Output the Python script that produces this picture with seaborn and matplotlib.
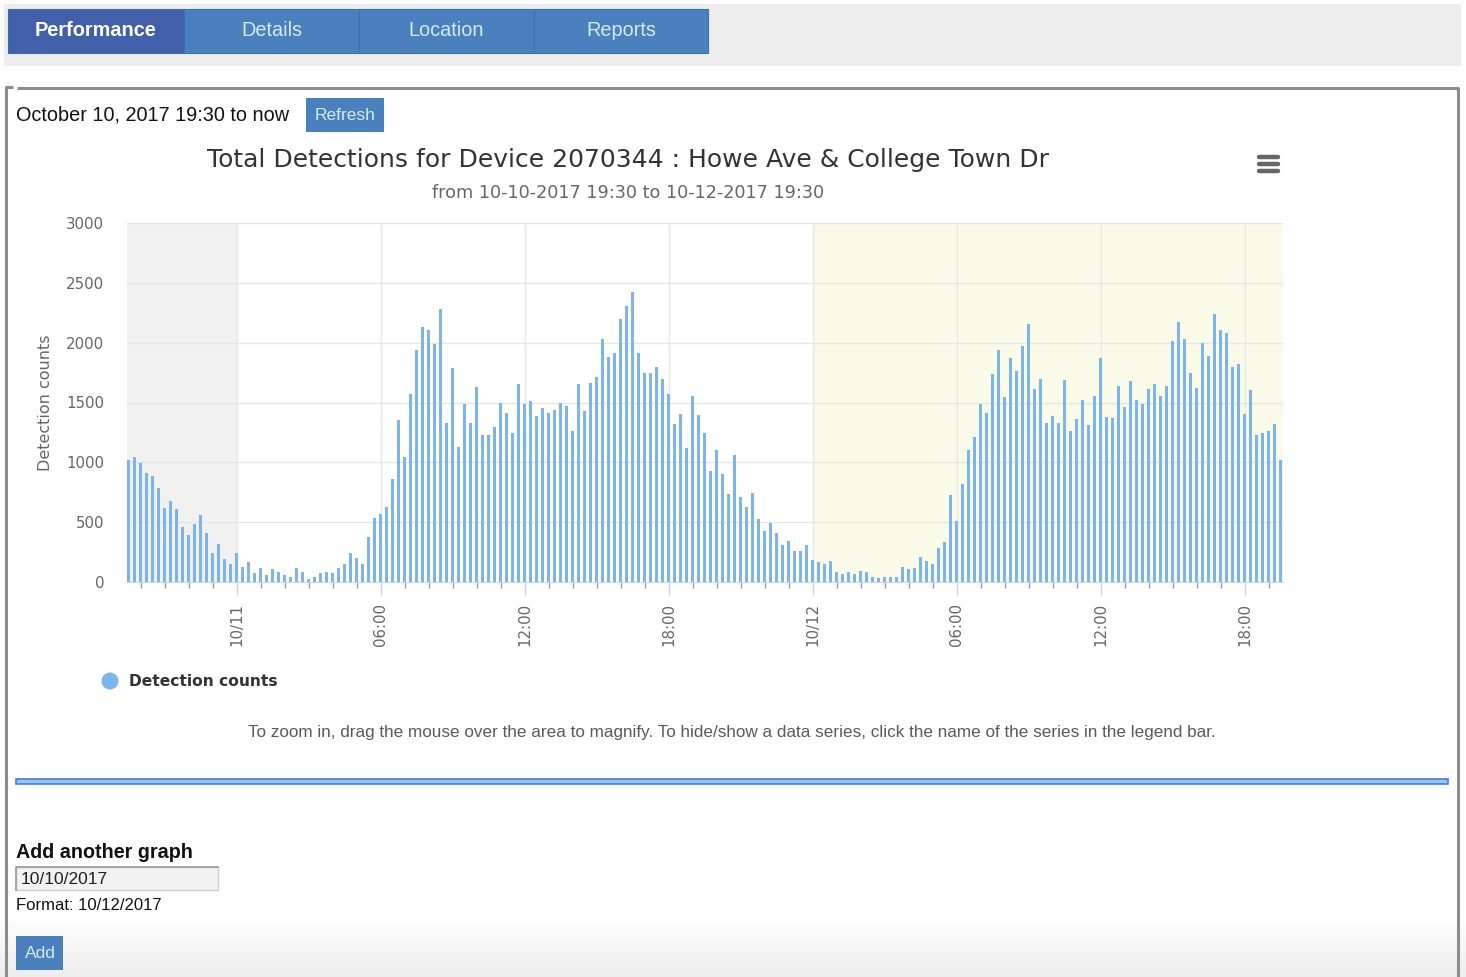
import numpy as np
import pandas as pd
import seaborn as sns
import matplotlib.pyplot as plt
from matplotlib.patches import Rectangle, Circle

# ----------------------------
# Data (15 minute detection counts)
# ----------------------------
start_time = "2017-10-10 19:30"
end_time = "2017-10-12 19:30"

counts = [
    1021, 1047, 996, 907, 882, 784, 620, 678, 606, 463,
    391, 488, 561, 413, 240, 321, 190, 153, 240, 128,
    167, 73, 120, 59, 106, 87, 59, 45, 120, 84,
    25, 38, 72, 84, 72, 120, 153, 239, 203, 153,
    379, 535, 571, 629, 858, 1356, 1044, 1568, 1938, 2130,
    2105, 1985, 2283, 1331, 1785, 1130, 1484, 1331, 1629, 1225,
    1225, 1297, 1495, 1412, 1248, 1651, 1484, 1509, 1390, 1451,
    1412, 1437, 1495, 1473, 1259, 1651, 1426, 1662, 1710, 2033,
    1877, 1916, 2200, 2308, 2425, 1916, 1746, 1746, 1794, 1699,
    1568, 1317, 1401, 1117, 1557, 1393, 1248, 927, 1106, 905,
    732, 1058, 713, 629, 746, 524, 426, 496, 412, 309,
    343, 259, 259, 309, 184, 164, 150, 175, 81, 70,
    81, 70, 92, 81, 45, 35, 45, 45, 45, 128,
    106, 114, 211, 175, 148, 282, 332, 724, 510, 816,
    1103, 1211, 1484, 1415, 1735, 1936, 1546, 1868, 1760, 1972,
    2153, 1615, 1696, 1328, 1387, 1328, 1688, 1261, 1365, 1523,
    1309, 1557, 1869, 1378, 1367, 1637, 1462, 1678, 1520, 1487,
    1615, 1651, 1557, 1637, 2011, 2175, 2033, 1746, 1618, 1997,
    1891, 2236, 2103, 2080, 1796, 1818, 1401, 1604, 1225, 1245,
    1259, 1317, 1019,
]

tab_names = ["Performance", "Details", "Location", "Reports"]
y_ticks = [0, 500, 1000, 1500, 2000, 2500, 3000]

chart_title = "Total Detections for Device 2070344 : Howe Ave & College Town Dr"
chart_subtitle = "from 10-10-2017 19:30 to 10-12-2017 19:30"
series_name = "Detection counts"
help_text = ("To zoom in, drag the mouse over the area to magnify. To hide/show a data "
             "series, click the name of the series in the legend bar.")

times = pd.date_range(start_time, end_time, freq="15min")
df = pd.DataFrame({"time": times, "count": counts})
df["hours"] = (df["time"] - df["time"].iloc[0]).dt.total_seconds() / 3600

UI_FONT = "Liberation Sans"
CHART_FONT = "DejaVu Sans"
BAR_BLUE = "#7cb5ec"
TAB_BLUE = "#4a80be"
TAB_ACTIVE = "#4260aa"
TAB_TEXT = "#d2ecf2"

W, H = 1466, 977
fig = plt.figure(figsize=(W / 100, H / 100), dpi=100)

# ----------------------------
# Page (pixel coordinates)
# ----------------------------
page = fig.add_axes([0, 0, 1, 1], zorder=0)
page.axis("off")

def box(x0, y0, x1, y1, **kw):
    page.add_patch(Rectangle((x0, y0), x1 - x0, y1 - y0, **kw))

# soft grey fade at the bottom of the page
fade = np.linspace(1.0, 0.93, 60)
page.imshow(np.dstack([fade, fade, fade]).reshape(60, 1, 3),
            extent=(0, W, H, 917), aspect="auto", zorder=0)

# tab strip
box(4, 4, 1461, 66, facecolor="#ededed", edgecolor="none")
tab_edges = [8, 184, 359, 534, 708]
for i, name in enumerate(tab_names):
    x0, x1 = tab_edges[i], tab_edges[i + 1]
    box(x0, 9, x1, 53, facecolor=TAB_ACTIVE if i == 0 else TAB_BLUE,
        edgecolor="#3f6fae", lw=0.8)
    page.text((x0 + x1) / 2, 31, name, ha="center", va="center",
              family=UI_FONT, fontsize=14.3,
              fontweight="bold" if i == 0 else "normal",
              color="white" if i == 0 else TAB_TEXT)

# panel border
border = "#8c8c8c"
page.plot([6, 6, 13], [977, 87, 87], color=border, lw=2.2, solid_capstyle="butt")
page.plot([17, 1458, 1458], [88, 88, 977], color=border, lw=2.2, solid_capstyle="butt")

page.text(16, 115, "October 10, 2017 19:30 to now", ha="left", va="center",
          family=UI_FONT, fontsize=14.3, color="#111111")
box(306, 98, 384, 132, facecolor=TAB_BLUE, edgecolor="none")
page.text(345, 115, "Refresh", ha="center", va="center", family=UI_FONT,
          fontsize=12.5, color=TAB_TEXT)

# chart title, subtitle and export menu icon
page.text(628, 160, chart_title, ha="center", va="center", family=CHART_FONT,
          fontsize=18, color="#333333")
page.text(628, 193, chart_subtitle, ha="center", va="center", family=CHART_FONT,
          fontsize=12.7, color="#666666")
for yy in (157, 164, 171):
    page.plot([1259, 1278], [yy, yy], color="#666666", lw=3.2, solid_capstyle="round")

# legend
page.add_patch(Circle((110, 681), 8.5, facecolor=BAR_BLUE, edgecolor="none"))
page.text(129, 682, series_name, ha="left", va="center", family=CHART_FONT,
          fontsize=11.2, fontweight="bold", color="#333333")

page.text(732, 733, help_text, ha="center", va="center", family=UI_FONT,
          fontsize=12.3, color="#5a5a5a")

# blue separator
box(16, 779, 1448, 784, facecolor="#9cc3f0", edgecolor="#3c7fd9", lw=1.2)

# add another graph form
page.text(16, 852, "Add another graph", ha="left", va="center", family=UI_FONT,
          fontsize=14.2, fontweight="bold", color="#111111")
box(16, 867, 218, 890, facecolor="#f2f2f2", edgecolor="#d0d0d0", lw=1)
page.plot([16, 16, 218], [890, 867, 867], color="#9a9a9a", lw=1.2)
page.text(21, 879, "10/10/2017", ha="left", va="center", family=UI_FONT,
          fontsize=12.5, color="#222222")
page.text(16, 905, "Format: 10/12/2017", ha="left", va="center", family=UI_FONT,
          fontsize=12, color="#111111")
box(16, 936, 63, 970, facecolor=TAB_BLUE, edgecolor="none")
page.text(40, 953, "Add", ha="center", va="center", family=UI_FONT,
          fontsize=12.5, color=TAB_TEXT)

page.set_xlim(0, W)
page.set_ylim(H, 0)

# ----------------------------
# Chart
# ----------------------------
left_px, right_px, top_px, bottom_px = 126.5, 1282.5, 223, 582
ax = fig.add_axes([left_px / W, 1 - bottom_px / H,
                   (right_px - left_px) / W, (bottom_px - top_px) / H], zorder=1)
ax.patch.set_alpha(0)

sns.barplot(data=df, x="hours", y="count", native_scale=True, width=0.55,
            color=BAR_BLUE, saturation=1, linewidth=0, errorbar=None, ax=ax, zorder=2)

x_min = -2.0 / 24
x_max = df["hours"].iloc[-1] + 2.0 / 24
ax.set_xlim(x_min, x_max)
ax.set_ylim(0, 3000)

# shaded bands: before 10/11 and from 10/12 on
day1 = (pd.Timestamp("2017-10-11") - times[0]).total_seconds() / 3600
day2 = (pd.Timestamp("2017-10-12") - times[0]).total_seconds() / 3600
ax.axvspan(x_min, day1, color="#f1f1f1", zorder=0.1, lw=0)
ax.axvspan(day2, x_max, color="#fafae8", zorder=0.1, lw=0)

major = df[(df["time"].dt.hour % 6 == 0) & (df["time"].dt.minute == 0)]
major_labels = [t.strftime("%m/%d") if t.hour == 0 else t.strftime("%H:%M")
                for t in major["time"]]
minor = df[df["time"].dt.minute == 0]

ax.set_xticks(major["hours"])
ax.set_xticklabels(major_labels, rotation=90, family=CHART_FONT,
                   fontsize=10.8, color="#666666")
ax.set_xticks(minor["hours"], minor=True)
ax.set_yticks(y_ticks)
ax.set_yticklabels([str(v) for v in y_ticks], family=CHART_FONT,
                   fontsize=10.8, color="#666666")

ax.tick_params(axis="x", which="major", length=9, width=1, color="#ccd6eb", pad=6)
ax.tick_params(axis="x", which="minor", length=4.5, width=1, color="#999999")
ax.tick_params(axis="y", length=0, pad=16)

ax.set_axisbelow(True)
ax.grid(axis="y", color="#e6e6e6", lw=1, zorder=0.5)
ax.grid(axis="x", which="major", color="#e6e6e6", lw=1, zorder=0.5)

for side in ("top", "right", "left"):
    ax.spines[side].set_visible(False)
ax.spines["bottom"].set_color("#ccd6eb")

ax.set_xlabel("")
ax.set_ylabel(series_name, family=CHART_FONT, fontsize=11.5, color="#666666")
ax.yaxis.set_label_coords((53 - left_px) / (right_px - left_px), 0.5)

fig.savefig("out.png", dpi=100)
